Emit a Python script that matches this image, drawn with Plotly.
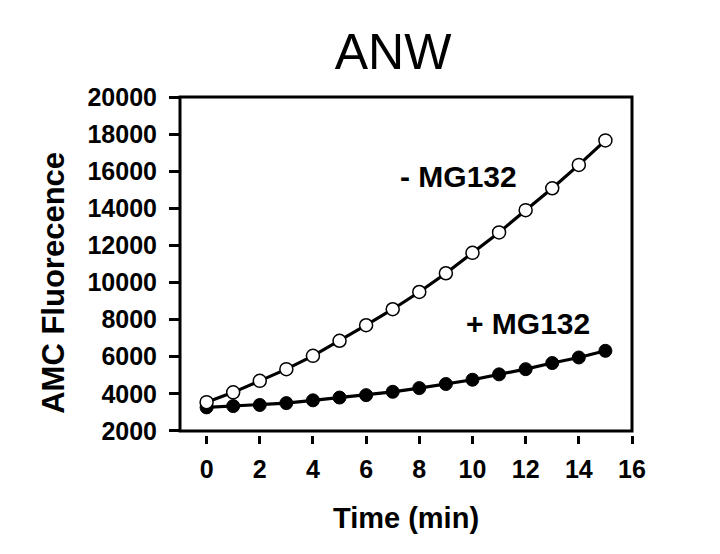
import plotly.graph_objects as go

# time points (min)
time_min = list(range(16))

# AMC fluorescence without proteasome inhibitor (open circles)
minus_mg132 = [3550, 4080, 4700, 5330, 6050, 6860, 7700, 8560,
               9490, 10500, 11600, 12700, 13900, 15080, 16340, 17660]

# AMC fluorescence with MG132 (filled circles)
plus_mg132 = [3270, 3340, 3400, 3500, 3650, 3800, 3930, 4110,
              4310, 4530, 4760, 5050, 5330, 5660, 5960, 6320]

x_ticks = [0, 2, 4, 6, 8, 10, 12, 14, 16]

FONT = "Liberation Sans, Arial, sans-serif"

fig = go.Figure()

fig.add_trace(go.Scatter(
    x=time_min, y=plus_mg132,
    mode='lines+markers',
    name='+ MG132',
    line=dict(color='black', width=3.2),
    marker=dict(size=13, color='black', line=dict(color='black', width=1)),
))

fig.add_trace(go.Scatter(
    x=time_min, y=minus_mg132,
    mode='lines+markers',
    name='- MG132',
    line=dict(color='black', width=3.2),
    marker=dict(size=13, color='white', line=dict(color='black', width=1.5)),
))

# plot frame
fig.add_shape(type='rect', xref='x domain', yref='y domain',
              x0=0, x1=1, y0=0, y1=1,
              line=dict(color='black', width=3), layer='above')

fig.add_annotation(x=9.47, y=15710, text='- MG132', showarrow=False,
                   font=dict(family=FONT, size=30, color='black', weight='bold'))
fig.add_annotation(x=12.1, y=7800, text='+ MG132', showarrow=False,
                   font=dict(family=FONT, size=30, color='black', weight='bold'))

# y-axis title sits a little below the axis centre in the original
fig.add_annotation(xref='paper', yref='paper', x=-0.279, y=0.45,
                   text='AMC Fluorecence', textangle=-90, showarrow=False,
                   xanchor='center', yanchor='middle',
                   font=dict(family=FONT, size=31, color='black', weight='bold'))

# page body has an 8px margin, so the figure is sized to fit the window
fig.update_layout(
    width=712, height=546,
    margin=dict(l=172, r=88, t=89, b=119),
    paper_bgcolor='white',
    plot_bgcolor='white',
    showlegend=False,
    title=dict(text='ANW', x=385 / 712, xref='container', xanchor='center',
               y=1 - 43 / 546, yref='container', yanchor='middle',
               font=dict(family=FONT, size=50, color='black')),
    xaxis=dict(
        range=[-1, 16], tickvals=x_ticks,
        showgrid=False, zeroline=False, showline=False,
        ticks='outside', ticklen=8, tickwidth=3, tickcolor='black',
        anchor='free', position=0, automargin=False,
        ticklabelstandoff=4,
        tickfont=dict(family=FONT, size=25, color='black', weight='bold'),
        title=dict(text='Time (min)', standoff=25,
                   font=dict(family=FONT, size=29, color='black', weight='bold')),
    ),
    yaxis=dict(
        range=[2000, 20000], dtick=2000, domain=[0.012, 1],
        tickformat='d', automargin=False,
        showgrid=False, zeroline=False, showline=False,
        ticks='outside', ticklen=10, tickwidth=3, tickcolor='black',
        ticklabelstandoff=7,
        tickfont=dict(family=FONT, size=25, color='black', weight='bold'),
    ),
)

fig.write_html("out.html")
